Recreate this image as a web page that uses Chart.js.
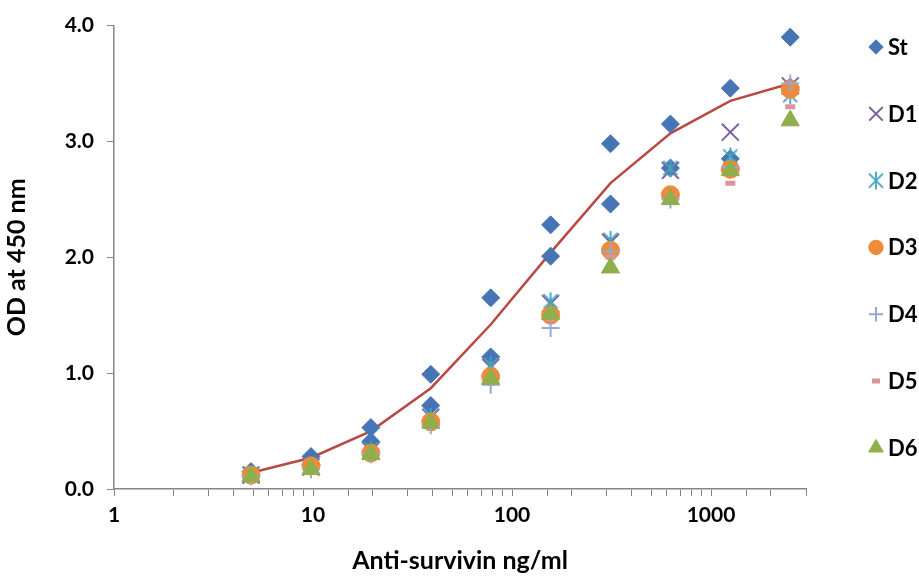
<!DOCTYPE html>
<html>
<head>
<meta charset="utf-8">
<script src="https://cdn.jsdelivr.net/npm/chart.js@4.4.1/dist/chart.umd.min.js"></script>
<style>
  html, body { margin: 0; padding: 0; background: #fff; }
  canvas { display: block; }
</style>
</head>
<body>
<canvas id="chart" width="919" height="578"></canvas>
<script>
// concentrations (ng/ml), two-fold dilutions
const concentrations = [4.88, 9.77, 19.53, 39.06, 78.13, 156.25, 312.5, 625, 1250, 2500];

// OD readings
const stHigh = [0.15, 0.28, 0.53, 0.99, 1.65, 2.28, 2.98, 3.15, 3.46, 3.90];
const stLow  = [0.12, 0.21, 0.41, 0.72, 1.14, 2.01, 2.46, 2.77, 2.85, 3.47];
const d1 = [0.12, 0.19, 0.33, 0.62, 1.05, 1.60, 2.13, 2.75, 3.08, 3.48];
const d2 = [0.13, 0.20, 0.34, 0.62, 1.07, 1.62, 2.15, 2.77, 2.87, 3.40];
const d3 = [0.12, 0.20, 0.31, 0.58, 0.97, 1.50, 2.06, 2.54, 2.76, 3.45];
const d4 = [0.11, 0.17, 0.30, 0.55, 0.90, 1.39, 2.05, 2.50, 2.78, 3.50];
const d5 = [0.10, 0.16, 0.32, 0.57, 0.95, 1.47, 2.00, 2.53, 2.64, 3.30];
const d6 = [0.11, 0.17, 0.30, 0.57, 0.95, 1.51, 1.91, 2.50, 2.75, 3.18];
const fitCurve = [0.14, 0.27, 0.50, 0.87, 1.42, 2.04, 2.64, 3.07, 3.35, 3.50];

const xTickLabels = [1, 10, 100, 1000];
const yTickLabels = ['0.0', '1.0', '2.0', '3.0', '4.0'];

const toPoints = vals => vals.map((v, i) => ({ x: concentrations[i], y: v }));

// asterisk marker (x with a vertical bar)
function asteriskMarker(color, r) {
    const c = document.createElement('canvas');
    const s = Math.ceil(r * 2 + 4);
    c.width = s; c.height = s;
    const g = c.getContext('2d');
    const m = s / 2;
    const d = r * 0.78;
    g.strokeStyle = color;
    g.lineWidth = 1.8;
    g.beginPath();
    g.moveTo(m, m - r); g.lineTo(m, m + r);
    g.moveTo(m - d, m - d); g.lineTo(m + d, m + d);
    g.moveTo(m + d, m - d); g.lineTo(m - d, m + d);
    g.stroke();
    return c;
}

const axisGrey = '#868686';

const datasets = [
    {
        label: 'fit', data: toPoints(fitCurve), showLine: true, pointRadius: 0,
        borderColor: '#BA4843', borderWidth: 2.5, tension: 0, order: 9
    },
    {
        label: 'St', data: toPoints(stHigh).concat(toPoints(stLow)), pointStyle: 'rectRot',
        pointRadius: 9, backgroundColor: '#4674B4', borderColor: '#4674B4', borderWidth: 1, order: 7, inLegend: true
    },
    {
        label: 'D1', data: toPoints(d1), pointStyle: 'crossRot', pointRadius: 12,
        backgroundColor: '#7E62A1', borderColor: '#7E62A1', borderWidth: 2, order: 6, inLegend: true
    },
    {
        label: 'D2', data: toPoints(d2), pointStyle: asteriskMarker('#3FA6C0', 9), pointRadius: 9,
        backgroundColor: '#3FA6C0', borderColor: '#3FA6C0', borderWidth: 2, order: 5, inLegend: true
    },
    {
        label: 'D3', data: toPoints(d3), pointStyle: 'circle', pointRadius: 9,
        backgroundColor: '#EE8A3A', borderColor: '#EE8A3A', borderWidth: 1, order: 4, inLegend: true
    },
    {
        label: 'D4', data: toPoints(d4), pointStyle: 'cross', pointRadius: 9,
        backgroundColor: '#91ABD6', borderColor: '#91ABD6', borderWidth: 2, order: 3, inLegend: true
    },
    {
        label: 'D5', data: toPoints(d5), pointStyle: 'line', pointRadius: 5,
        backgroundColor: '#D8959A', borderColor: '#D8959A', borderWidth: 5, order: 2, inLegend: true
    },
    {
        label: 'D6', data: toPoints(d6), pointStyle: 'triangle', pointRadius: 10.5,
        backgroundColor: '#8FAE4C', borderColor: '#8FAE4C', borderWidth: 1, order: 1, inLegend: true
    }
];

// legend down the right side
const sideLegend = {
    id: 'sideLegend',
    afterDraw(chart) {
        const ctx = chart.ctx;
        const items = chart.data.datasets.filter(d => d.inLegend);
        ctx.save();
        items.forEach((ds, i) => {
            const y = 47 + i * 66.8;
            ctx.save();
            ctx.fillStyle = ds.backgroundColor;
            ctx.strokeStyle = ds.borderColor;
            ctx.lineWidth = ds.borderWidth;
            const r = typeof ds.pointStyle === 'string' ? ds.pointRadius * 0.8 : ds.pointRadius;
            Chart.helpers.drawPoint(ctx, {
                pointStyle: ds.pointStyle, rotation: 0, radius: r, borderWidth: ds.borderWidth
            }, 876, y);
            ctx.restore();
            ctx.font = 'bold 22px Lato';
            ctx.fillStyle = '#000';
            ctx.textBaseline = 'middle';
            ctx.fillText(ds.label, 888, y + 1);
        });
        ctx.restore();
    }
};

Chart.defaults.font.family = 'Lato';
Chart.defaults.font.weight = 'bold';
Chart.defaults.font.size = 21;
Chart.defaults.color = '#000';

new Chart(document.getElementById('chart'), {
    type: 'scatter',
    data: { datasets },
    options: {
        responsive: false,
        animation: false,
        layout: { padding: { top: 17, right: 113, left: 0, bottom: 0 } },
        plugins: { legend: { display: false }, tooltip: { enabled: false } },
        scales: {
            x: {
                type: 'logarithmic',
                min: 1, max: 3000,
                afterFit: s => { s.height = 89; },
                grid: { drawOnChartArea: false, drawTicks: true, tickLength: 7, color: axisGrey },
                border: { color: axisGrey, width: 1.5 },
                ticks: {
                    autoSkip: false, maxRotation: 0, padding: 7,
                    callback: v => xTickLabels.includes(v) ? String(v) : ''
                },
                title: {
                    display: true, text: 'Anti-survivin ng/ml',
                    font: { size: 25, weight: 'bold' }, padding: { top: 0, bottom: 2 }
                }
            },
            y: {
                min: 0, max: 4,
                afterFit: s => { s.width = 114; },
                grid: { drawOnChartArea: false, drawTicks: true, tickLength: 7, color: axisGrey },
                border: { color: axisGrey, width: 1.5 },
                ticks: {
                    stepSize: 1, padding: 13,
                    callback: v => yTickLabels[Math.round(v)]
                },
                title: {
                    display: true, text: 'OD at 450 nm',
                    font: { size: 25, weight: 'bold' }, padding: { top: 2, bottom: 0 }
                }
            }
        }
    },
    plugins: [sideLegend]
});
</script>
</body>
</html>
